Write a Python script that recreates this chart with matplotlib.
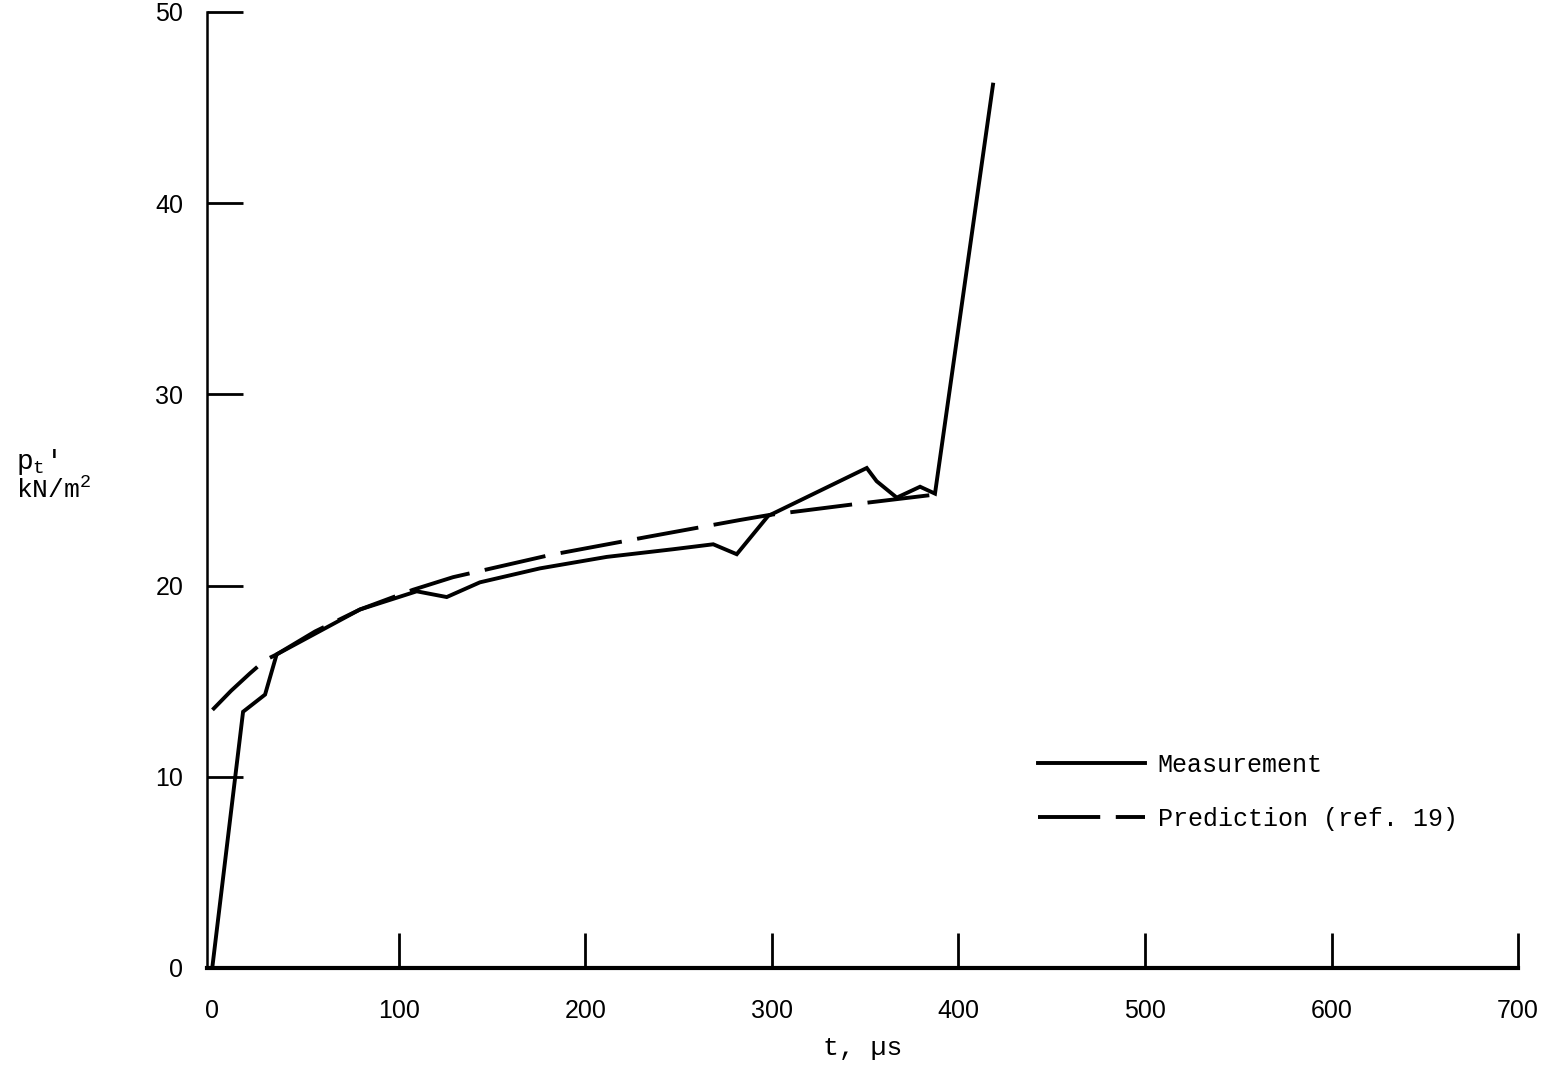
import matplotlib
matplotlib.use("Agg")
import matplotlib.pyplot as plt

# measurement (solid)
meas_t = [0, 16.4, 28.2, 34.4, 79.1, 109.5, 125.6, 143.4, 175.6, 211.4, 246.9,
          268.5, 281.1, 297.9, 350.8, 356.1, 366.9, 379.4, 387.4, 418.5]
meas_p = [0.1, 13.4, 14.3, 16.4, 18.75, 19.7, 19.4, 20.17, 20.9, 21.5, 21.9,
          22.16, 21.64, 23.64, 26.15, 25.46, 24.6, 25.17, 24.81, 46.2]

# prediction (ref. 19), dashed
pred_t = [0, 10, 20, 28.2, 34.4, 55, 79.1, 107.5, 129, 181, 232.8, 282.8,
          299, 344.5, 388.3]
pred_p = [13.5, 14.5, 15.4, 16.1, 16.4, 17.6, 18.75, 19.78, 20.44, 21.6,
          22.54, 23.43, 23.7, 24.26, 24.77]

x_ticks = [0, 100, 200, 300, 400, 500, 600, 700]
y_ticks = [0, 10, 20, 30, 40, 50]

plt.rcParams['mathtext.fontset'] = 'custom'
plt.rcParams['mathtext.rm'] = 'Liberation Mono'
plt.rcParams['mathtext.it'] = 'Liberation Mono'

tick_font = ['Liberation Sans', 'DejaVu Sans']
mono_font = ['Liberation Mono', 'DejaVu Sans Mono']

fig = plt.figure(figsize=(15.52, 10.71), dpi=100)
ax = fig.add_axes([0.1333, 0.0962, 0.8448, 0.8926])

ax.plot(meas_t, meas_p, color='black', lw=2.8, solid_joinstyle='miter',
        label='Measurement')
ax.plot(pred_t, pred_p, color='black', lw=2.8, dashes=(16, 4),
        label='Prediction (ref. 19)')

ax.set_xlim(-3, 700)
ax.set_ylim(0, 50)

ax.spines['top'].set_visible(False)
ax.spines['right'].set_visible(False)
ax.spines['bottom'].set_linewidth(3)
ax.spines['left'].set_linewidth(1.8)

ax.set_xticks(x_ticks)
ax.set_yticks(y_ticks)
ax.tick_params(axis='x', direction='in', length=25, width=2, pad=22,
               labelsize=18)
ax.tick_params(axis='y', direction='in', length=26, width=2, pad=17,
               labelsize=18)
ax.xaxis.get_major_ticks()[0].tick1line.set_visible(False)
ax.yaxis.get_major_ticks()[0].tick1line.set_visible(False)
for lab in ax.get_xticklabels() + ax.get_yticklabels():
    lab.set_family(tick_font)

ax.set_xlabel('t, µs', family=mono_font, fontsize=19, labelpad=10)

fig.text(0.010, 0.562, r"$\mathrm{p_t}$'", family=mono_font, fontsize=20,
         ha='left', va='baseline')
fig.text(0.010, 0.535, r"kN/m$^2$", family=mono_font, fontsize=19,
         ha='left', va='baseline')

leg = ax.legend(loc='upper left', bbox_to_anchor=(0.654, 0.318),
                bbox_transform=fig.transFigure, frameon=False,
                handlelength=4.3, handletextpad=0.5, labelspacing=1.2,
                prop={'family': mono_font, 'size': 18})

fig.savefig('out.png', dpi=100)
